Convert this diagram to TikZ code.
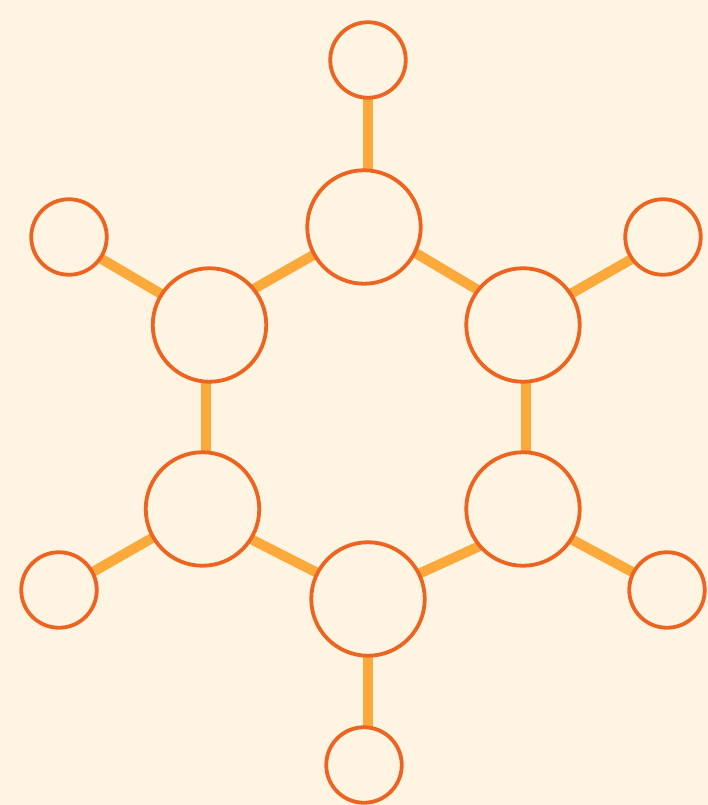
\documentclass[tikz,border=0pt]{standalone}
\definecolor{bgc}{HTML}{FFF4E1}
\definecolor{ringc}{HTML}{EC6421}
\definecolor{bondc}{HTML}{FBA93B}
\tikzset{
  atom/.style={circle,draw=ringc,line width=3.8bp,fill=bgc,minimum size=#1,inner sep=0pt,outer sep=0pt},
  big/.style={atom=113.5bp},
  small/.style={atom=75.5bp},
  bond/.style={draw=bondc,line width=10bp,shorten <=-10bp,shorten >=-10bp}
}
\begin{document}
\begin{tikzpicture}[x=1bp,y=1bp]
\path[fill=bgc] (0,0) rectangle (708,805);
\useasboundingbox (0,0) rectangle (708,805);
% bond ends: y is 805 minus the reference pixel row
\coordinate (v1a) at (368,710);\coordinate (v1b) at (368,630);
\coordinate (v2a) at (206,425);\coordinate (v2b) at (206,350);
\coordinate (v3a) at (526,425);\coordinate (v3b) at (526,350);
\coordinate (v4a) at (368,150);\coordinate (v4b) at (368,75);
\coordinate (tla) at (256.7,517.7);\coordinate (tlb) at (311.7,549);
\coordinate (tra) at (416,551.7);\coordinate (trb) at (475,516.7);
\coordinate (bla) at (252.7,265);\coordinate (blb) at (315,233.3);
\coordinate (bra) at (420,231.7);\coordinate (brb) at (478.3,258.3);
\coordinate (otla) at (103.3,545);\coordinate (otlb) at (160,511.7);
\coordinate (otra) at (571.7,511.7);\coordinate (otrb) at (630,545);
\coordinate (obla) at (93.3,233.3);\coordinate (oblb) at (151.7,266.7);
\coordinate (obra) at (572.7,265);\coordinate (obrb) at (631.7,233.3);
\foreach \a/\b in {v1a/v1b,v2a/v2b,v3a/v3b,v4a/v4b,tla/tlb,tra/trb,bla/blb,bra/brb,otla/otlb,otra/otrb,obla/oblb,obra/obrb}
  \draw[bond] (\a) -- (\b);
\node[big] (n1) at (364,578) {};
\node[big] (n2) at (209.5,480) {};
\node[big] (n3) at (523,480) {};
\node[big] (n4) at (202.5,296) {};
\node[big] (n5) at (523,296) {};
\node[big] (n6) at (368,206) {};
\node[small] (s1) at (368,745) {};
\node[small] (s2) at (69,568) {};
\node[small] (s3) at (663,568) {};
\node[small] (s4) at (59,215) {};
\node[small] (s5) at (667,215) {};
\node[small] (s6) at (364,40) {};
\end{tikzpicture}
\end{document}
